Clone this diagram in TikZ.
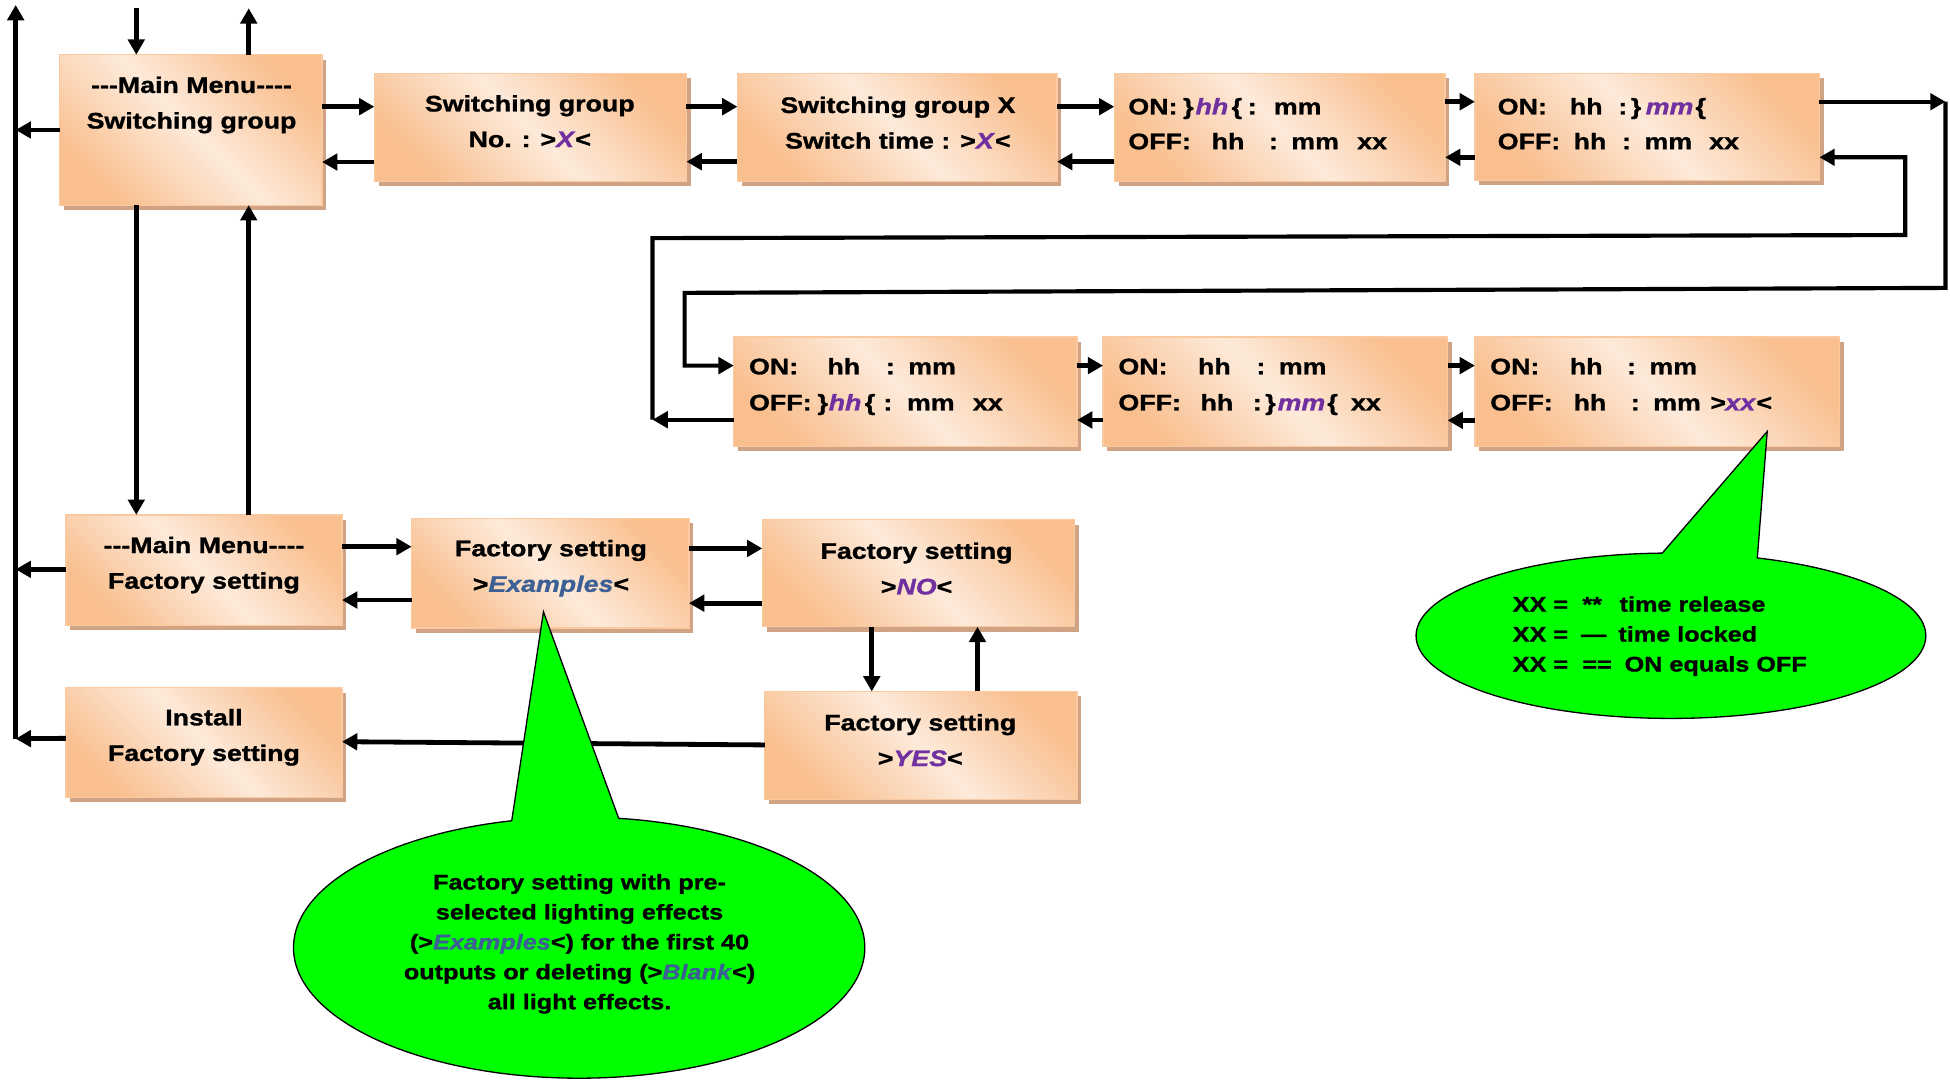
\documentclass[tikz,border=0pt]{standalone}
\usepackage{fontspec}
\setmainfont{Liberation Sans}[FakeStretch=1.19,FakeBold=1.2]
\usetikzlibrary{arrows.meta,fit,shadows,shapes.geometric}
\definecolor{boxorange}{HTML}{F9BF8F}
\definecolor{boxlight}{HTML}{FDEADA}
\definecolor{boxedge}{HTML}{FAC9A0}
\definecolor{boxshadow}{HTML}{CFA383}
\definecolor{selpurple}{HTML}{7030A0}
\definecolor{selblue}{HTML}{3C6096}
\definecolor{callgreen}{HTML}{00FF00}
\newlength\pxu
\setlength\pxu{0.02cm}
\newcommand\segm[2]{\makebox[#1\pxu][l]{#2}}
\newcommand\pv[1]{\textcolor{selpurple}{\textit{#1}}}
\newcommand\bv[1]{\textcolor{selblue}{\textit{#1}}}

\begin{document}
\begin{tikzpicture}[x=0.02cm, y=-0.02cm,
	menubox/.style={draw=boxedge, line width=0.6pt, inner sep=0pt, outer sep=0pt,
		top color=boxorange, bottom color=boxorange, middle color=boxlight, shading angle=-45,
		general shadow={fill=boxshadow, shadow xshift=2pt, shadow yshift=-2.2pt}},
	boxtxt/.style={inner sep=0pt, align=center, font=\bfseries\fontsize{10.3}{16.3}\selectfont},
	linetxt/.style={inner sep=0pt, anchor=base west, font=\bfseries\fontsize{10.3}{16.3}\selectfont},
	calltxt/.style={inner sep=0pt, font=\bfseries\fontsize{9.7}{13.7}\selectfont},
	callout/.style={ellipse, draw, line width=0.6pt, fill=callgreen, inner sep=0pt, outer sep=0pt},
	arr/.style={line width=2.2pt, -{Triangle[length=7pt,width=7.5pt]}},
	looparr/.style={arr, line width=1.9pt}]
	%%%%% START %%%%%
	\useasboundingbox (0,0) rectangle (1568,871);
	
	% menu boxes
	\node[menubox, fit={(48,44) (259,165)}] (b1) {};
	\node[menubox, fit={(301,59) (552,146)}] (b2) {};
	\node[menubox, fit={(593,59) (850,146)}] (b3) {};
	\node[menubox, fit={(896,59) (1162,146)}] (b4) {};
	\node[menubox, fit={(1186,59) (1463,145)}] (b5) {};
	\node[menubox, fit={(590,271) (866,359)}] (b7) {};
	\node[menubox, fit={(887,271) (1164,359)}] (b8) {};
	\node[menubox, fit={(1186,271) (1479,359)}] (b9) {};
	\node[menubox, fit={(53,414) (275,503)}] (b6) {};
	\node[menubox, fit={(331,417) (554,505)}] (b10) {};
	\node[menubox, fit={(613,418) (864,504)}] (b11) {};
	\node[menubox, fit={(53,553) (275,641)}] (b12) {};
	\node[menubox, fit={(615,556) (866,643)}] (b13) {};
	
	\node[boxtxt] (t1) at (154,84.4) {-{}-{}-Main Menu-{}-{}-{}-\\Switching group};
	\node[boxtxt] (t2) at (426,97.5) {Switching group\\No. : >\pv{X}<};
	\node[boxtxt] (t3) at (722,98.7) {Switching group X\\Switch time : >\pv{X}<};
	\node[boxtxt] (t6) at (164,454.4) {-{}-{}-Main Menu-{}-{}-{}-\\Factory setting};
	\node[boxtxt] (t10) at (443,456.9) {Factory setting\\>\bv{Examples}<};
	\node[boxtxt] (t11) at (737,457.2) {Factory setting\\>\pv{NO}<};
	\node[boxtxt] (t12) at (164,592.9) {Install\\Factory setting};
	\node[boxtxt] (t13) at (740,595.2) {Factory setting\\>\pv{YES}<};
	
	\node[linetxt] (on4) at (907,92) {\segm{44}{ON:}\segm{10}{\}}\segm{29}{\pv{hh}}\segm{13}{\{}\segm{21}{:}mm};
	\node[linetxt] (off4) at (907,120) {\segm{67}{OFF:}\segm{46}{hh}\segm{18}{:}\segm{53}{mm}xx};
	\node[linetxt] (on5) at (1204,92) {\segm{58}{ON:}\segm{39}{hh}\segm{10}{:}\segm{12}{\}}\segm{40}{\pv{mm}}\{};
	\node[linetxt] (off5) at (1204,120) {\segm{61}{OFF:}\segm{39}{hh}\segm{18}{:}\segm{52}{mm}xx};
	\node[linetxt] (on7) at (602,301) {\segm{63}{ON:}\segm{47}{hh}\segm{18}{:}mm};
	\node[linetxt] (off7) at (602,330) {\segm{55}{OFF:}\segm{9}{\}}\segm{29}{\pv{hh}}\segm{15}{\{}\segm{19}{:}\segm{53}{mm}xx};
	\node[linetxt] (on8) at (899,301) {\segm{64}{ON:}\segm{47}{hh}\segm{18}{:}mm};
	\node[linetxt] (off8) at (899,330) {\segm{66}{OFF:}\segm{42}{hh}\segm{10}{:}\segm{10}{\}}\segm{40}{\pv{mm}}\segm{19}{\{}xx};
	\node[linetxt] (on9) at (1198,301) {\segm{64}{ON:}\segm{46}{hh}\segm{18}{:}mm};
	\node[linetxt] (off9) at (1198,330) {\segm{67}{OFF:}\segm{46}{hh}\segm{18}{:}\segm{46}{mm}\segm{12}{>}\segm{25}{\pv{xx}}<};
	
	% left bus and top arrows
	\coordinate (busN) at (12.6,4);
	\coordinate (busS) at (12.6,594);
	\coordinate (inN) at (109.6,6.7);
	\coordinate (outN) at (200,6.7);
	\draw[arr] (busS) -- (busN);
	\draw[arr] (inN) -- (inN |- b1.north);
	\draw[arr] (outN |- b1.north) -- (outN);
	\draw[arr] (b1.west |- 0,104.5) -- (busS |- 0,104.5);
	\draw[arr] (b6.west |- 0,457.8) -- (busS |- 0,457.8);
	\draw[arr] (b12.west |- 0,593.7) -- (busS);
	\draw[arr] (inN |- b1.south) -- (inN |- b6.north);
	\draw[arr] (outN |- b6.north) -- (outN |- b1.south);
	
	% top row
	\draw[arr] (b1.east |- 0,85.8) -- (b2.west |- 0,85.8);
	\draw[arr] (b2.west |- 0,130.3) -- (b1.east |- 0,130.3);
	\draw[arr] (b2.east |- 0,85.8) -- (b3.west |- 0,85.8);
	\draw[arr] (b3.west |- 0,130) -- (b2.east |- 0,130);
	\draw[arr] (b3.east |- 0,85.8) -- (b4.west |- 0,85.8);
	\draw[arr] (b4.west |- 0,130) -- (b3.east |- 0,130);
	\draw[arr] (b4.east |- 0,81.8) -- (b5.west |- 0,81.8);
	\draw[arr] (b5.west |- 0,126.5) -- (b4.east |- 0,126.5);
	
	% loops to the second row
	\coordinate (loopNE) at (1564.4,81.8);
	\coordinate (loopSE) at (1564.4,231.5);
	\coordinate (loopSW) at (550.5,235.5);
	\draw[looparr] (b5.east |- 0,81.8) -- (loopNE);
	\draw[looparr] (loopNE) -- (loopSE) -- (loopSW) |- (b7.west |- 0,294);
	\coordinate (loopW) at (524.7,337.5);
	\coordinate (loopNW) at (524.7,191.5);
	\coordinate (loopE) at (1532,189);
	\draw[looparr] (b7.west |- 0,337.5) -- (loopW);
	\draw[looparr] (loopW) -- (loopNW) -- (loopE) |- (b5.east |- 0,126.5);
	
	% second row
	\draw[arr] (b7.east |- 0,294) -- (b8.west |- 0,294);
	\draw[arr] (b8.west |- 0,337.7) -- (b7.east |- 0,337.7);
	\draw[arr] (b8.east |- 0,294) -- (b9.west |- 0,294);
	\draw[arr] (b9.west |- 0,338) -- (b8.east |- 0,338);
	
	% factory setting
	\draw[arr] (b6.east |- 0,439.6) -- (b10.west |- 0,439.6);
	\draw[arr] (b10.west |- 0,482.5) -- (b6.east |- 0,482.5);
	\draw[arr] (b10.east |- 0,441) -- (b11.west |- 0,441);
	\draw[arr] (b11.west |- 0,485) -- (b10.east |- 0,485);
	\draw[arr] (b11.south -| 701,0) -- (b13.north -| 701,0);
	\draw[arr] (b13.north -| 786,0) -- (b11.south -| 786,0);
	\draw[arr] (b13.west |- 0,599) -- (b12.east |- 0,596.4);
	
	% callouts
	\node[callout, minimum width=8.2cm, minimum height=2.66cm] (c1) at (1343.6,511.2) {};
	\coordinate (c1tip) at (1421,347);
	\fill[callgreen] (c1.96.9) -- (c1tip) -- (c1.42.5) -- (c1.center) -- cycle;
	\draw[line width=0.6pt] (c1.96.9) -- (c1tip) -- (c1.42.5);
	\node[calltxt, anchor=west, align=left] (c1txt) at (1216,511.5)
		{\segm{56}{XX =}\segm{30}{**}time release\\\segm{55}{XX =}\segm{30}{—}time locked\\\segm{56}{XX =}\segm{34}{==}ON equals OFF};
	
	\node[callout, minimum width=9.19cm, minimum height=4.2cm] (c2) at (465.7,762) {};
	\coordinate (c2tip) at (437,492);
	\fill[callgreen] (c2.118.8) -- (c2tip) -- (c2.73.9) -- (c2.center) -- cycle;
	\draw[line width=0.6pt] (c2.118.8) -- (c2tip) -- (c2.73.9);
	\node[calltxt, align=center] (c2txt) at (466,759)
		{Factory setting with pre-\\selected lighting effects\\(>\bv{Examples}<) for the first 40\\outputs or deleting (>\bv{Blank}<)\\all light effects.};
	
	%%%%% END %%%%%
\end{tikzpicture}
\end{document}
